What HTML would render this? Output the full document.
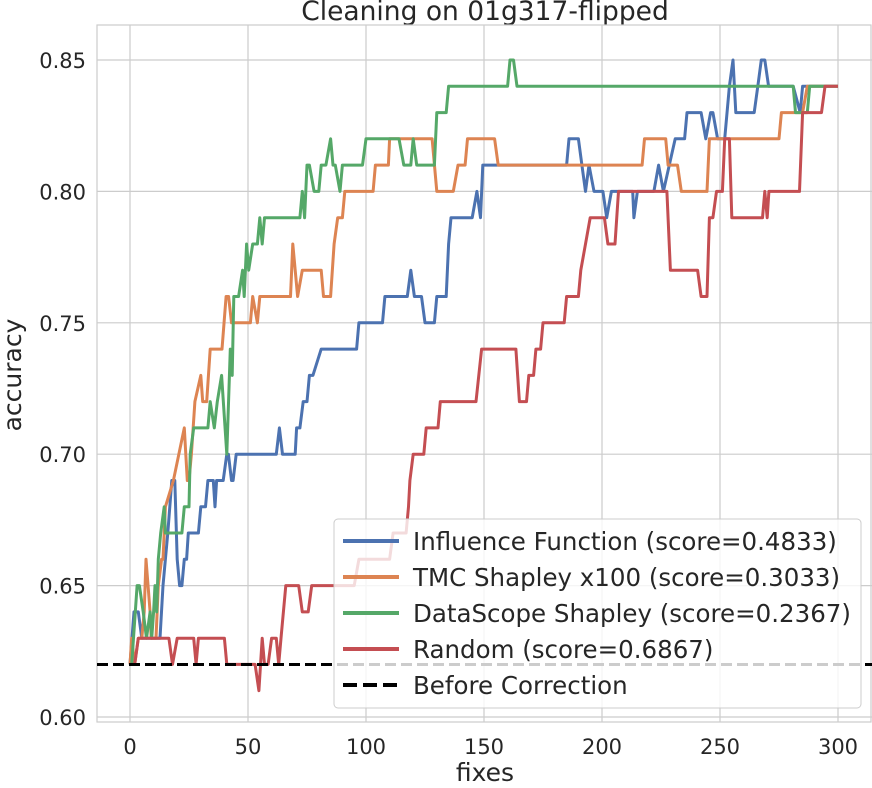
<!DOCTYPE html>
<html><head><meta charset="utf-8"><style>
html,body{margin:0;padding:0;background:#fff;}
svg{display:block;font-family:"DejaVu Sans","Liberation Sans",sans-serif;}
</style></head><body>
<svg id="chart" width="872" height="788" viewBox="0 0 872 788">
<text x="485" y="20" font-size="26.5" text-anchor="middle" fill="#262626">Cleaning on 01g317-flipped</text>
<g id="grid"></g>
<g id="axes"></g>
<g id="series"></g>
<g id="legend"></g>
</svg>
<script>
const xTicks = [0, 50, 100, 150, 200, 250, 300];
const yTicks = [0.60, 0.65, 0.70, 0.75, 0.80, 0.85];
const baseline = 0.62;
const seriesNames = ["Influence Function (score=0.4833)", "TMC Shapley x100 (score=0.3033)", "DataScope Shapley (score=0.2367)", "Random (score=0.6867)"];
const seriesColors = ["#4c72b0", "#dd8452", "#55a868", "#c44e52"];
const infX = [0,1.7,3.5,5,12.7,14,15,16,17.7,19,20,21,22,23,24,24.7,29,30,32,33,35.3,36,36.7,39.5,41,41.7,43,43.7,45,62,63.3,64.6,70,70.6,72,73.4,75,76,77.5,81,96,97,107,108,117.5,119,120.5,123.5,125,129,130,134,135,136,145,147,148.5,149.5,185,186,190,191.5,193,194.5,196.6,200.4,202,204,213,213.5,215,222,224,226,228.5,231,235,236,242,244,246,247,249,252,254,255.5,256.7,264.5,266,267.5,269,270.6,281,284,285,300];
const infY = [0.62,0.64,0.64,0.63,0.63,0.65,0.66,0.67,0.69,0.69,0.66,0.65,0.65,0.66,0.66,0.67,0.67,0.68,0.68,0.69,0.69,0.68,0.69,0.69,0.70,0.70,0.69,0.69,0.70,0.70,0.71,0.70,0.70,0.71,0.71,0.72,0.72,0.73,0.73,0.74,0.74,0.75,0.75,0.76,0.76,0.77,0.76,0.76,0.75,0.75,0.76,0.76,0.78,0.79,0.79,0.80,0.79,0.81,0.81,0.82,0.82,0.81,0.80,0.81,0.80,0.80,0.79,0.80,0.80,0.79,0.80,0.80,0.81,0.80,0.81,0.82,0.82,0.83,0.83,0.82,0.83,0.83,0.82,0.82,0.84,0.85,0.83,0.83,0.84,0.85,0.85,0.84,0.84,0.83,0.84,0.84];
const tmcX = [0,0.7,2,3.5,5,6,6.8,8.5,9,11,12,13.4,14,15,18.4,23,24.3,25,26,27.5,30,30.8,32.5,34,39,40.7,41.8,43,51,52,54,55,68,69,71,73,81,82,85,86.5,88,90,91,103,104,109.5,110,128,130,137,139,142,143,154.5,156,217,218,227,228,232,233.6,244.5,245.5,275,276,285,287,300];
const tmcY = [0.62,0.63,0.62,0.63,0.63,0.64,0.66,0.64,0.63,0.63,0.65,0.66,0.66,0.68,0.69,0.71,0.69,0.69,0.70,0.72,0.73,0.72,0.72,0.74,0.74,0.76,0.76,0.75,0.75,0.76,0.75,0.76,0.76,0.78,0.76,0.77,0.77,0.76,0.76,0.78,0.79,0.79,0.80,0.80,0.81,0.81,0.82,0.82,0.80,0.80,0.81,0.81,0.82,0.82,0.81,0.81,0.82,0.82,0.81,0.81,0.80,0.80,0.82,0.82,0.83,0.83,0.84,0.84];
const dsX = [0,0.7,3,4,5.6,7,8.5,9.2,10,10.6,11.3,12,13,14.5,15,22,23,25,25.5,27,33,34,35.7,37,38.8,41,42.5,43.3,44,46,47.7,48.4,49.4,50.3,52,54,55,56,57,60,61,72,73,74,75,76,78,80,81,83,85,86,87,89,90,98.5,100,114,116,119,120,121.5,129,130,134,135,160,161,162.5,164,281,282,287,288,300];
const dsY = [0.62,0.62,0.65,0.65,0.64,0.63,0.64,0.63,0.64,0.65,0.64,0.66,0.67,0.68,0.67,0.67,0.68,0.68,0.70,0.71,0.71,0.72,0.71,0.72,0.73,0.70,0.74,0.73,0.76,0.76,0.77,0.76,0.78,0.77,0.78,0.78,0.79,0.78,0.79,0.79,0.79,0.79,0.80,0.79,0.81,0.81,0.80,0.80,0.81,0.81,0.82,0.81,0.81,0.80,0.81,0.81,0.82,0.82,0.81,0.81,0.82,0.81,0.81,0.83,0.83,0.84,0.84,0.85,0.85,0.84,0.84,0.83,0.83,0.84,0.84];
const rndX = [0,2,3.5,16.5,18,20,27,28,29,40,41,53,54.6,56,57,58.5,60,62,63,64,66,71.5,73,75.5,77,95,97,110,111.5,117,118,118.6,120,124.5,125.5,130.5,131.5,146.6,149,163.5,165,168,169,171,172,174,175,184,185,190,191,193,195,201,202.5,205.5,207,227.5,229,240.5,242,244.5,245.5,247,248.5,251,252,254,255,268,269,270,270.7,283.7,285,293,294.5,300];
const rndY = [0.62,0.62,0.63,0.63,0.62,0.63,0.63,0.62,0.63,0.63,0.62,0.62,0.61,0.63,0.62,0.62,0.63,0.63,0.62,0.63,0.65,0.65,0.64,0.64,0.65,0.65,0.66,0.66,0.67,0.67,0.68,0.69,0.70,0.70,0.71,0.71,0.72,0.72,0.74,0.74,0.72,0.72,0.73,0.73,0.74,0.74,0.75,0.75,0.76,0.76,0.77,0.78,0.79,0.79,0.78,0.78,0.80,0.80,0.77,0.77,0.76,0.76,0.79,0.79,0.80,0.80,0.82,0.82,0.79,0.79,0.80,0.79,0.80,0.80,0.83,0.83,0.84,0.84];
const seriesX = [infX, tmcX, dsX, rndX];
const seriesY = [infY, tmcY, dsY, rndY];

const L=97, R=872, T=25, B=722;
const xS = v => 130 + v*(838-130)/300;
const yS = v => 717 - (v-0.60)*(717-60)/0.25;
const NS="http://www.w3.org/2000/svg";
function mk(tag, attrs, parent){const e=document.createElementNS(NS,tag);for(const k in attrs)e.setAttribute(k,attrs[k]);parent.appendChild(e);return e;}
const grid=document.getElementById('grid'), axes=document.getElementById('axes'), ser=document.getElementById('series'), leg=document.getElementById('legend');

xTicks.forEach(t=>{
  const l=mk('line',{x1:xS(t),x2:xS(t),y1:T,y2:B,stroke:'#cccccc','stroke-width':1.2},grid);
  
  
  const tx=mk('text',{x:xS(t),y:754,'font-size':21,'text-anchor':'middle',fill:'#262626'},axes);
  tx.textContent=t;
  
  
});
yTicks.forEach(t=>{
  const l=mk('line',{x1:L,x2:R,y1:yS(t),y2:yS(t),stroke:'#cccccc','stroke-width':1.2},grid);
  
  
  const tx=mk('text',{x:86,y:yS(t)+8,'font-size':21,'text-anchor':'end',fill:'#262626'},axes);
  tx.textContent=t.toFixed(2);
  
  
});
const frame=mk('rect',{x:L,y:T,width:R-L-1,height:B-T,fill:'none',stroke:'#cccccc','stroke-width':1.2},axes);


const xl=mk('text',{x:485,y:781,'font-size':25,'text-anchor':'middle',fill:'#262626'},axes);
xl.textContent='fixes';


const yl=mk('text',{x:0,y:0,'font-size':25,'text-anchor':'middle',fill:'#262626',transform:'translate(21,375) rotate(-90)'},axes);
yl.textContent='accuracy';



seriesX.forEach((xs,i)=>{
  const pts=xs.map((x,j)=>xS(x).toFixed(1)+','+yS(seriesY[i][j]).toFixed(1)).join(' ');
  const p=mk('polyline',{points:pts,fill:'none',stroke:seriesColors[i],'stroke-width':3,'stroke-linejoin':'round'},ser);
  
  
});
const bl=mk('line',{x1:L,x2:R,y1:yS(baseline),y2:yS(baseline),stroke:'#000','stroke-width':3,'stroke-dasharray':'11,5'},ser);



const lb=mk('rect',{x:334,y:519,width:527,height:189,rx:4,fill:'rgba(255,255,255,0.8)',stroke:'#cccccc','stroke-width':1},leg);


const labels=seriesNames.concat(['Before Correction']);
const cols=seriesColors.concat(['#000']);
labels.forEach((s,i)=>{
  const y=541+i*36;
  const ln=mk('line',{x1:343,x2:399,y1:y,y2:y,stroke:cols[i],'stroke-width':4},leg);
  if(i===4) ln.setAttribute('stroke-dasharray','14,6');
  
  
  const t=mk('text',{x:413,y:y+9,'font-size':24.5,fill:'#262626'},leg);
  t.textContent=s;
  
  
});
</script>
</body></html>
